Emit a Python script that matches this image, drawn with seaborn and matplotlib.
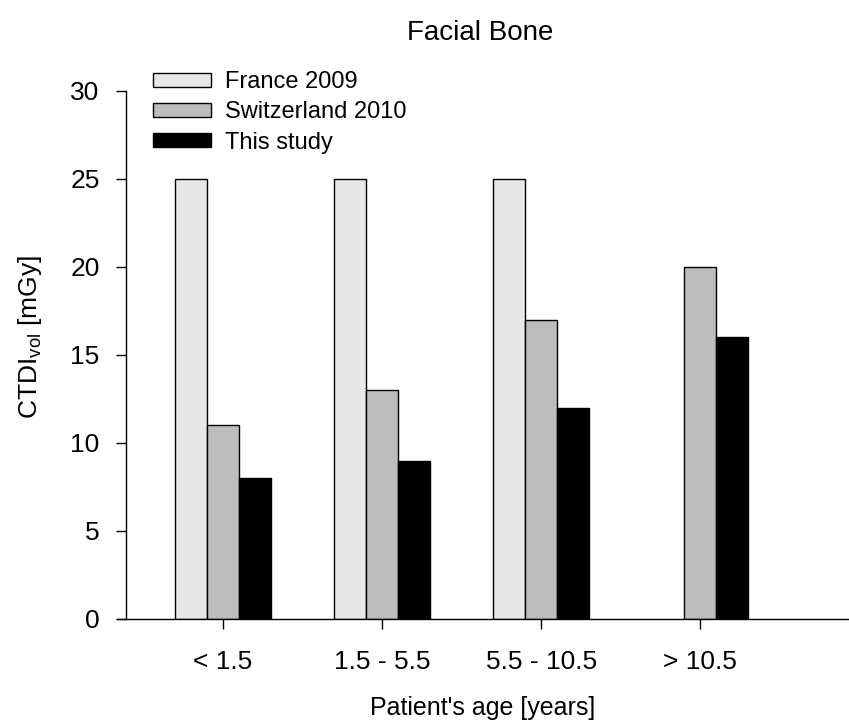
import numpy as np
import pandas as pd
import matplotlib
matplotlib.use("Agg")
import matplotlib.pyplot as plt
import seaborn as sns

categories = ["< 1.5", "1.5 - 5.5", "5.5 - 10.5", "> 10.5"]
france_2009 = [25, 25, 25, np.nan]
switzerland_2010 = [11, 13, 17, 20]
this_study = [8, 9, 12, 16]
series_names = ["France 2009", "Switzerland 2010", "This study"]
y_ticks = [0, 5, 10, 15, 20, 25, 30]

rows = []
for name, vals in zip(series_names, [france_2009, switzerland_2010, this_study]):
    for c, v in zip(categories, vals):
        rows.append({"age": c, "series": name, "value": v})
df = pd.DataFrame(rows)

sns.set_style("ticks")
plt.rcParams["font.family"] = ["Liberation Sans", "DejaVu Sans"]
plt.rcParams["mathtext.fontset"] = "custom"
plt.rcParams["mathtext.rm"] = "Liberation Sans"
plt.rcParams["text.color"] = "black"
plt.rcParams["axes.labelcolor"] = "black"

fig = plt.figure(figsize=(8.49, 7.28), dpi=100)
ax = fig.add_axes([117 / 849, (728 - 619) / 728, 731 / 849, 528 / 728])

palette = {"France 2009": "#e8e8e8", "Switzerland 2010": "#bdbdbd", "This study": "#000000"}
sns.barplot(data=df, x="age", y="value", hue="series", hue_order=series_names,
            order=categories, palette=palette, width=0.6, dodge=True,
            edgecolor="black", linewidth=1.0, saturation=1, ax=ax, errorbar=None)

ax.set_xlim(-0.667, 3.93)
ax.set_ylim(0, 30)
ax.set_yticks(y_ticks)
ax.spines["left"].set_position(("data", -0.61))
ax.spines["top"].set_visible(False)
ax.spines["right"].set_visible(False)
for s in ["left", "bottom"]:
    ax.spines[s].set_linewidth(1.0)
    ax.spines[s].set_color("black")

ax.tick_params(axis="y", direction="out", length=7, width=1, labelsize=19, pad=12, colors="black")
ax.tick_params(axis="x", direction="out", length=7, width=1, labelsize=19, pad=15, colors="black")

ax.set_xlabel("Patient's age [years]", fontsize=18, labelpad=16)
ax.set_ylabel(r"CTDI$_{\mathregular{vol}}$ [mGy]", fontsize=19)
ax.yaxis.set_label_coords(-0.1, 0.535)

fig.text(480 / 849, 1 - 33 / 728, "Facial Bone", fontsize=20, ha="center", va="center")

handles, labels = ax.get_legend_handles_labels()
ax.legend(handles, labels, loc="upper left", bbox_to_anchor=(0.0494, 1.037),
          frameon=False, fontsize=17, handlelength=2.45, handleheight=0.55,
          handletextpad=0.6, labelspacing=0.34, borderpad=0, borderaxespad=0)

fig.savefig("out.png", dpi=100)
